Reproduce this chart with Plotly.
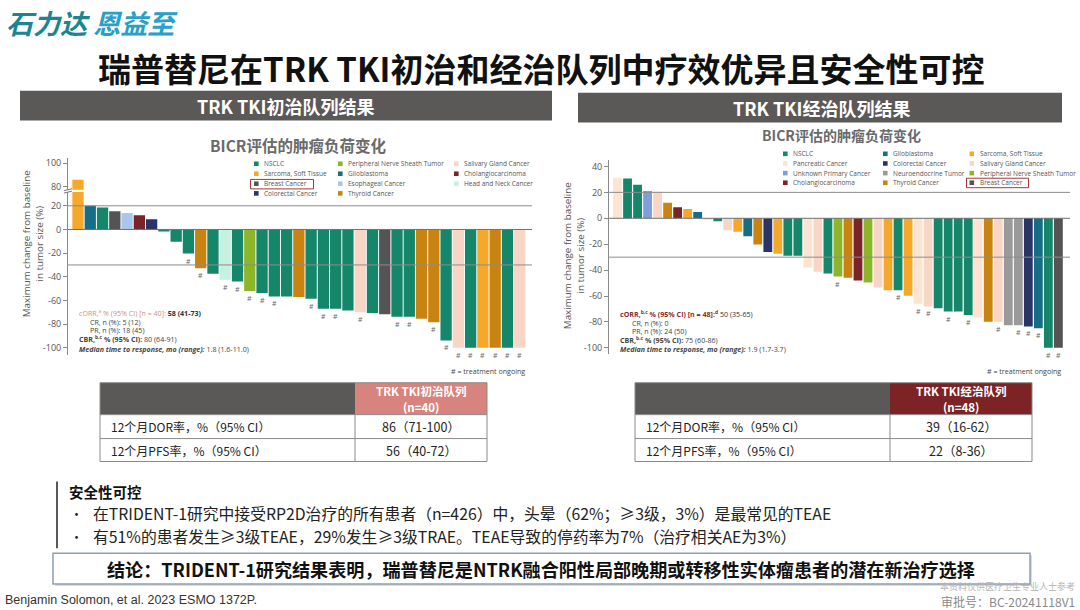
import plotly.graph_objects as go

W, H = 1080, 610

# ---------------- data ----------------
COLORS = {
    "NSCLC": "#15866A", "Sarcoma": "#F5A82A", "Breast": "#545454", "Colorectal": "#2B3467",
    "PNST": "#8DB52A", "Glio": "#156E86", "Esoph": "#A8C6EE", "Thyroid": "#C98310",
    "Salivary": "#F8D6C6", "Cholangio": "#7A2428", "HeadNeck": "#C6F1E1",
    "Pancreatic": "#FBE5D2", "Unknown": "#7E9FD8", "Neuro": "#9A9A9A",
}
NAMES = {
    "NSCLC": "NSCLC", "Sarcoma": "Sarcoma, Soft Tissue", "Breast": "Breast Cancer",
    "Colorectal": "Colorectal Cancer", "PNST": "Peripheral Nerve Sheath Tumor",
    "Glio": "Glioblastoma", "Esoph": "Esophageal Cancer", "Thyroid": "Thyroid Cancer",
    "Salivary": "Salivary Gland Cancer", "Cholangio": "Cholangiocarcinoma",
    "HeadNeck": "Head and Neck Cancer", "Pancreatic": "Pancreatic Cancer",
    "Unknown": "Unknown Primary Cancer", "Neuro": "Neuroendocrine Tumor",
}

# TKI-naive cohort (left)
L_types = ["Sarcoma", "Glio", "NSCLC", "Breast", "Esoph", "Cholangio", "Colorectal",
           "NSCLC", "NSCLC", "NSCLC", "Thyroid", "NSCLC", "HeadNeck", "NSCLC", "PNST",
           "NSCLC", "NSCLC", "NSCLC", "Thyroid", "NSCLC", "NSCLC", "NSCLC", "NSCLC",
           "Salivary", "NSCLC", "Breast", "NSCLC", "NSCLC", "Thyroid", "Thyroid", "NSCLC",
           "Salivary", "NSCLC", "Sarcoma", "Thyroid", "NSCLC", "Salivary"]
L_vals = [86, 20, 18.5, 15.5, 14, 12, 8.7,
          -1.7, -10.4, -20.4, -32.8, -37.5, -42.6, -44, -52,
          -53.8, -56.6, -56.6, -57, -58.5, -67, -67, -68.6,
          -70, -70.6, -71.7, -73.7, -73.7, -75.4, -78.4, -93.8,
          -100, -100, -100, -100, -100, -100]
L_ongoing = [0, 0, 0, 0, 0, 0, 0, 0, 0, 1, 1, 0, 1, 1, 1, 1, 1, 0, 0, 1, 1, 1, 0,
             1, 0, 0, 1, 1, 0, 1, 1, 1, 1, 1, 1, 1, 1]

# TKI-pretreated cohort (right)
R_types = ["Pancreatic", "NSCLC", "NSCLC", "Unknown", "Salivary", "Thyroid", "Cholangio",
           "Sarcoma", "Glio", "Pancreatic", "NSCLC", "Salivary", "Sarcoma", "Glio", "Thyroid",
           "Colorectal", "Sarcoma", "NSCLC", "NSCLC", "Pancreatic", "Salivary", "NSCLC",
           "PNST", "Thyroid", "Cholangio", "PNST", "Salivary", "Sarcoma", "NSCLC", "Sarcoma",
           "Pancreatic", "Salivary", "NSCLC", "NSCLC", "NSCLC", "NSCLC", "Pancreatic",
           "Thyroid", "Salivary", "Neuro", "Neuro", "Colorectal", "Glio", "NSCLC", "Breast"]
R_vals = [31.3, 30.8, 25.9, 21, 20.5, 12, 8.5, 7.2, 4.9,
          -1.3, -2.3, -9.2, -10.3, -13.8, -20.3, -26, -27.4, -29, -29,
          -38, -41.3, -42.6, -45, -45.8, -48, -49.5, -53.5, -55.5, -55.6,
          -59.7, -66, -68, -69.5, -72, -72, -74.6, -76.8, -79.8, -79.8,
          -82.5, -82.5, -83.5, -84.8, -100, -100]
R_ongoing = [0] * 22 + [1, 0, 0, 0, 0, 0, 1, 0, 1, 1, 0, 1, 0, 1, 0, 0, 1, 0, 1, 1, 1, 1, 1]

L_legend = [["NSCLC", "Sarcoma", "Breast", "Colorectal"],
            ["PNST", "Glio", "Esoph", "Thyroid"],
            ["Salivary", "Cholangio", "HeadNeck"]]
R_legend = [["NSCLC", "Pancreatic", "Unknown", "Cholangio"],
            ["Glio", "Colorectal", "Neuro", "Thyroid"],
            ["Sarcoma", "Salivary", "PNST", "Breast"]]

L_ticks = [100, 80, 20, 0, -20, -40, -60, -80, -100]
R_ticks = [40, 20, 0, -20, -40, -60, -80, -100]
REF_LINES = [20, -30]

TABLE_ROWS = ["12个月DOR率，%（95% CI）", "12个月PFS率，%（95% CI）"]
L_table = ["86（71-100）", "56（40-72）"]
R_table = ["39（16-62）", "22（8-36）"]

# ---------------- helpers ----------------
def px(x):
    return x / W

def py(y):
    return 1 - y / H

def brk(v):
    """broken left axis: 20..80 compressed"""
    if v <= 20:
        return v
    if v <= 80:
        return 20 + (v - 20) * 16 / 60
    return v - 44

CJK = "Noto Sans CJK SC"
LAT = "Open Sans"

fig = go.Figure()

fig.add_trace(go.Bar(
    x=list(range(len(L_vals))), y=[brk(v) for v in L_vals],
    marker=dict(color=[COLORS[t] for t in L_types], line=dict(width=0)),
    xaxis="x", yaxis="y", showlegend=False, hoverinfo="skip"))
fig.add_trace(go.Bar(
    x=list(range(len(R_vals))), y=R_vals, width=0.88,
    marker=dict(color=[COLORS[t] for t in R_types], line=dict(width=0)),
    xaxis="x2", yaxis="y2", showlegend=False, hoverinfo="skip"))

ax_common = dict(showgrid=False, zeroline=False, showline=True, linecolor="#8a8a8a",
                 linewidth=1, ticks="outside", ticklen=4, tickcolor="#8a8a8a",
                 tickfont=dict(family=LAT, size=9, color="#555555"), fixedrange=True)

fig.update_layout(
    width=W, height=H, margin=dict(l=0, r=0, t=0, b=0),
    paper_bgcolor="white", plot_bgcolor="rgba(0,0,0,0)",
    bargap=0.08, showlegend=False,
    xaxis=dict(domain=[px(68), px(532)], range=[-0.815, 37.0], visible=False),
    yaxis=dict(domain=[py(354), py(157)], range=[-106, 60],
               tickvals=[brk(t) for t in L_ticks], ticktext=[str(t) for t in L_ticks],
               **ax_common),
    xaxis2=dict(domain=[px(609), px(1070)], range=[-0.85, 45.16], visible=False,
                anchor="y2"),
    yaxis2=dict(domain=[py(353.5), py(158.5)], range=[-105, 45], anchor="x2",
                tickvals=R_ticks, ticktext=[str(t) for t in R_ticks], **ax_common),
)

shapes = []
ann = []

def text(x, y, s, size, color="#222", family=CJK, xa="left", ya="middle", **kw):
    ann.append(dict(x=px(x), y=py(y), xref="paper", yref="paper", text=s,
                    showarrow=False, xanchor=xa, yanchor=ya,
                    font=dict(family=family, size=size, color=color), **kw))

def rect(x0, y0, x1, y1, fill=None, line=None, lw=1, layer="above"):
    shapes.append(dict(type="rect", xref="paper", yref="paper",
                       x0=px(x0), x1=px(x1), y0=py(y1), y1=py(y0),
                       fillcolor=fill or "rgba(0,0,0,0)",
                       line=dict(color=line or "rgba(0,0,0,0)", width=lw if line else 0),
                       layer=layer))

def hline(x0, x1, y, color, w=1):
    shapes.append(dict(type="line", xref="paper", yref="paper", x0=px(x0), x1=px(x1),
                       y0=py(y), y1=py(y), line=dict(color=color, width=w)))

def vline(x, y0, y1, color, w=1):
    shapes.append(dict(type="line", xref="paper", yref="paper", x0=px(x), x1=px(x),
                       y0=py(y0), y1=py(y1), line=dict(color=color, width=w)))

# ---------------- header / title ----------------
text(4, 21, "<b><i><span style='color:#1b8593'>石力达</span> <span style='color:#2aa0c6'>恩益至</span></i></b>", 27)
text(541, 66, "<b>瑞普替尼在TRK TKI初治和经治队列中疗效优异且安全性可控</b>", 33, "#111", xa="center")
rect(20, 89, 552, 119, fill="#5b5858")
rect(578, 91, 1062, 121, fill="#5b5858")
text(286, 104, "<b>TRK TKI初治队列结果</b>", 18, "white", xa="center")
text(822, 106, "<b>TRK TKI经治队列结果</b>", 18, "white", xa="center")
text(298, 143, "<b>BICR评估的肿瘤负荷变化</b>", 15.5, "#6a6a6a", xa="center")
text(841, 133, "<b>BICR评估的肿瘤负荷变化</b>", 14, "#6a6a6a", xa="center")

# ---------------- reference lines ----------------
for xr, yr in (("x", "y"), ("x2", "y2")):
    for v in [0] + REF_LINES:
        shapes.append(dict(type="line", xref=xr + " domain", yref=yr, x0=0, x1=1,
                           y0=v, y1=v, line=dict(color="#6f6f6f" if v == 0 else "#8c8c8c",
                                                 width=1), layer="above"))

# axis break on left chart
b0, b1 = brk(20) + 11.6, brk(20) + 13.6
shapes.append(dict(type="rect", xref="x", yref="y", x0=-0.55, x1=0.55, y0=b0, y1=b1,
                   fillcolor="white", line=dict(width=0), layer="above"))
shapes.append(dict(type="rect", xref="paper", yref="y", x0=px(64), x1=px(72), y0=b0, y1=b1,
                   fillcolor="white", line=dict(width=0), layer="above"))
for yy in (b0, b1):
    shapes.append(dict(type="line", xref="paper", yref="y", x0=px(64), x1=px(72),
                       y0=yy - 0.8, y1=yy + 0.8, line=dict(color="#777", width=1)))

# ongoing markers
for i, (v, o) in enumerate(zip(L_vals, L_ongoing)):
    if o:
        ann.append(dict(x=i, y=brk(v), xref="x", yref="y", text="#", showarrow=False,
                        yanchor="top", yshift=-1, font=dict(family=LAT, size=7, color="#666")))
for i, (v, o) in enumerate(zip(R_vals, R_ongoing)):
    if o:
        ann.append(dict(x=i, y=v, xref="x2", yref="y2", text="#", showarrow=False,
                        yanchor="top", yshift=-1, font=dict(family=LAT, size=7, color="#666")))

# axis titles
text(33, 243, "Maximum change from baseline<br>in tumor size (%)", 9.8, "#555", family=LAT,
     xa="center", textangle=-90)
text(574, 255, "Maximum change from baseline<br>in tumor size (%)", 9.8, "#555", family=LAT,
     xa="center", textangle=-90)

# ---------------- legends ----------------
def legend(cols, xs_sq, ys, box):
    for c, col in enumerate(cols):
        for r, key in enumerate(col):
            x0 = xs_sq[c]
            rect(x0, ys[r] - 2.3, x0 + 4.6, ys[r] + 2.3, fill=COLORS[key])
            text(x0 + 8, ys[r], NAMES[key], 6.5, "#555", family=LAT)
    rect(*box, line="#a33a3a", lw=1)

legend(L_legend, [254, 338, 454], [162.3, 172.3, 182.3, 192], (250.5, 178, 313.5, 187.5))
legend(R_legend, [783, 883, 969.5], [152.3, 162, 171.7, 181.3], (966.5, 176.8, 1028.5, 186.3))

# ---------------- stats text ----------------
S = 7.1
text(77, 312, "<span style='color:#cf8f88'>cORR,<sup>a</sup> % (95% CI) [n = 40]:</span> <b>58 (41-73)</b>", S, "#333", family=LAT)
text(88, 321, "CR, n (%): 5 (12)", S, "#444", family=LAT)
text(88, 329.5, "PR, n (%): 18 (45)", S, "#444", family=LAT)
text(77, 338.5, "<b>CBR,<sup>b,c</sup> % (95% CI):</b> 80 (64-91)", S, "#444", family=LAT)
text(77, 347.8, "<b><i>Median time to response, mo (range):</i></b> 1.8 (1.6-11.0)", S, "#444", family=LAT)
text(527, 370, "# = treatment ongoing", S, "#444", family=LAT, xa="right")

text(618, 313.5, "<b><span style='color:#8b2b2e'>cORR,<sup>b,c</sup> % (95% CI) [n = 48]:<sup>d</sup></span></b> 50 (35-65)", S, "#333", family=LAT)
text(630, 322.3, "CR, n (%): 0", S, "#444", family=LAT)
text(630, 330.5, "PR, n (%): 24 (50)", S, "#444", family=LAT)
text(618, 339, "<b>CBR,<sup>b,c</sup> % (95% CI):</b> 75 (60-86)", S, "#444", family=LAT)
text(618, 347.8, "<b><i>Median time to response, mo (range):</i></b> 1.9 (1.7-3.7)", S, "#444", family=LAT)
text(1063, 370, "# = treatment ongoing", S, "#444", family=LAT, xa="right")

# ---------------- tables ----------------
def table(x0, xs, x1, head_fill, title, n, vals):
    ys = [382, 414, 438, 461]
    rect(x0, ys[0], xs, ys[1], fill="#5b5858")
    rect(xs, ys[0], x1, ys[1], fill=head_fill)
    rect(x0, ys[1], x1, ys[3], fill="white")
    for y in ys[1:]:
        hline(x0, x1, y, "#8a8a8a")
    hline(x0, x1, ys[0], "#8a8a8a")
    vline(x0, ys[0], ys[3], "#8a8a8a")
    vline(x1, ys[0], ys[3], "#8a8a8a")
    vline(xs, ys[1], ys[3], "#8a8a8a")
    cx = (xs + x1) / 2
    text(cx, 390, "<b>" + title + "</b>", 11.5, "white", xa="center")
    text(cx, 406.5, "<b>" + n + "</b>", 11.5, "white", xa="center")
    for k, (lab, v) in enumerate(zip(TABLE_ROWS, vals)):
        yc = (ys[k + 1] + ys[k + 2]) / 2
        text(x0 + 9, yc, lab, 12, "#222")
        text(cx, yc, v, 12.5, "#222", xa="center")

table(100, 355, 487, "#d8847e", "TRK TKI初治队列", "(n=40)", L_table)
table(635, 890, 1032, "#7c2326", "TRK TKI经治队列", "(n=48)", R_table)

# ---------------- safety ----------------
vline(57, 481, 548, "#222", 1.5)
text(67, 491, "<b>安全性可控</b>", 14.5, "#111")
text(68, 513, "•", 13, "#222")
text(91, 513, "在TRIDENT-1研究中接受RP2D治疗的所有患者（n=426）中，头晕（62%；≥3级，3%）是最常见的TEAE", 15.8, "#222")
text(68, 536, "•", 13, "#222")
text(91, 536, "有51%的患者发生≥3级TEAE，29%发生≥3级TRAE。TEAE导致的停药率为7%（治疗相关AE为3%）", 15.8, "#222")

# conclusion
rect(55, 555, 1032, 586, fill="#d9dde3")
rect(53, 553, 1030, 584, fill="white", line="#8e9db4", lw=1.5)
text(541, 569, "<b>结论：TRIDENT-1研究结果表明，瑞普替尼是NTRK融合阳性局部晚期或转移性实体瘤患者的潜在新治疗选择</b>", 18.1, "#111", xa="center")

# footer
text(3, 600, "Benjamin Solomon, et al. 2023 ESMO 1372P.", 12.5, "#333", family="Liberation Sans")
text(1077, 586.5, "本资料仅供医疗卫生专业人士参考", 9, "#b5b5b5", xa="right")
text(1077, 601.5, "审批号：BC-20241118V1", 12, "#8a8a8a", xa="right")

fig.update_layout(shapes=shapes, annotations=ann)
fig.write_html("out.html", config={"displayModeBar": False},
               post_script="document.body.style.margin='0';document.body.style.overflow='hidden';")
